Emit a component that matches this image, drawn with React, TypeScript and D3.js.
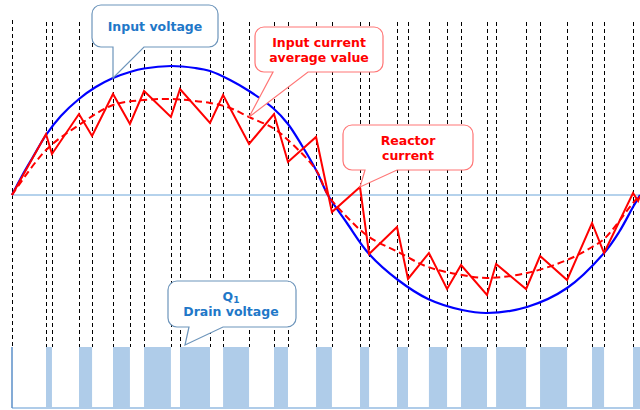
import React from "react";
import * as d3 from "d3";

// Phase angle (degrees) of each switching edge (dashed lines)
const switchDeg = [0, 19.5, 22.9, 38.4, 45.9, 57.9, 67.6, 75.7, 91.1, 96.3, 113.5, 121.0, 135.9, 150.2, 158.2, 174.3,
  183.4, 199.5, 204.7, 220.7, 227.0, 239.0, 249.4, 257.4, 272.3, 277.5, 294.7, 302.7, 318.2, 332.5, 339.4, 356.0];

// Reactor current at each switching edge (plus the tail end)
const currentDeg = [...switchDeg, 358.9, 360];
const currentVal = [0, 61, 41, 81, 59, 101, 71, 104, 78, 106, 72, 100, 51, 81, 33, 58,
  -17, 8, -59, -32, -84, -58, -94, -70, -100, -69, -94, -61, -85, -28, -58, 2, -6, -1];

// Input voltage samples
const voltDeg = [0, 6, 12, 19.5, 28, 38.4, 48, 57.9, 67.6, 75.7, 91.1, 105, 113.5, 125, 135.9, 149.6, 158.2, 166, 174.3, 181.1,
  192.0, 204.7, 221.3, 238.5, 258.0, 272.3, 295.2, 318.2, 339.4, 348, 356.0, 360];
const voltVal = [0, 20, 38, 60, 79, 96, 108, 117, 123, 126.5, 129, 127, 124, 115, 104, 87, 71, 50, 25, 0,
  -28, -59, -85, -104, -115, -118, -112, -93, -58, -37, -12, 0];

// Input current average value samples
const avgDeg = [0, 19.5, 38.4, 57.9, 75.7, 91.1, 113.5, 125.0, 135.9, 149.6, 158.2, 174.3, 181.1,
  192.0, 204.7, 221.3, 238.5, 258.0, 272.3, 295.2, 318.2, 332.5, 339.4, 356.0, 360];
const avgVal = [0, 45, 70, 90, 95, 96, 92, 87, 78, 67, 55, 25, 0,
  -22, -42, -57, -72, -80, -83, -78, -65, -52, -44, -8, 0];

const W = 640;
const H = 410;

const x = d3.scaleLinear().domain([0, 360]).range([12, 640]);
const y = d3.scaleLinear().domain([-150, 150]).range([345, 45]);

const BAR_TOP = 347;
const BAR_BOT = 408;
const LINE_TOP = 22;

function callout(bx: number, by: number, w: number, h: number, r: number, t1: number, t2: number, tx: number, ty: number) {
  const b = by + h;
  return `M${bx + r},${by} H${bx + w - r} A${r},${r} 0 0 1 ${bx + w},${by + r} V${b - r} A${r},${r} 0 0 1 ${bx + w - r},${b} H${t2} L${tx},${ty} L${t1},${b} H${bx + r} A${r},${r} 0 0 1 ${bx},${b - r} V${by + r} A${r},${r} 0 0 1 ${bx + r},${by} Z`;
}

export default function App() {
  const cur = currentDeg.map((d, i) => [d, currentVal[i]] as [number, number]);
  const volt = voltDeg.map((d, i) => [d, voltVal[i]] as [number, number]);
  const avg = avgDeg.map((d, i) => [d, avgVal[i]] as [number, number]);

  const lineLin = d3.line<[number, number]>().x((d) => x(d[0])).y((d) => y(d[1]));
  const lineSmooth = d3.line<[number, number]>().x((d) => x(d[0])).y((d) => y(d[1])).curve(d3.curveCatmullRom.alpha(0.5));

  // off intervals (drain voltage high)
  const bars: [number, number][] = [];
  for (let i = 1; i < switchDeg.length; i += 2) {
    bars.push([switchDeg[i], i + 1 < switchDeg.length ? switchDeg[i + 1] : 360]);
  }

  const font = "'DejaVu Sans', Verdana, sans-serif";
  const blueText = "#1f78c8";
  const blueBorder = "#6d95bb";
  const redText = "#ff0000";
  const redBorder = "#ff7676";

  return (
    <svg width={W} height={H} style={{ position: "absolute", left: 0, top: 0, background: "#fff" }}>
      {/* drain voltage bars */}
      {bars.map(([a, b], i) => (
        <rect key={i} x={x(a)} y={BAR_TOP} width={x(b) - x(a)} height={BAR_BOT - BAR_TOP + 1} fill="#afcce9" />
      ))}
      <line x1={x(0)} x2={W} y1={BAR_BOT} y2={BAR_BOT} stroke="#afcce9" strokeWidth={2} />
      <line x1={x(0)} x2={x(0)} y1={BAR_TOP} y2={BAR_BOT} stroke="#5b8fc8" strokeWidth={1.5} />

      {/* switching edges */}
      {switchDeg.map((d, i) => (
        <line key={i} x1={Math.round(x(d)) + 0.5} x2={Math.round(x(d)) + 0.5} y1={i === 0 ? 20 : LINE_TOP} y2={BAR_TOP}
          stroke="#000" strokeWidth={1} strokeDasharray="4,3" />
      ))}

      {/* zero axis */}
      <line x1={x(0)} x2={W} y1={y(0)} y2={y(0)} stroke="#9dc3e6" strokeWidth={1.6} />

      {/* curves */}
      <path d={lineSmooth(volt) || ""} fill="none" stroke="#0000ff" strokeWidth={2.2} />
      <path d={lineSmooth(avg) || ""} fill="none" stroke="#ff0000" strokeWidth={2} strokeDasharray="7,4" />
      <path d={lineLin(cur) || ""} fill="none" stroke="#ff0000" strokeWidth={2} strokeLinejoin="miter" />

      {/* callouts */}
      <path d={callout(92, 5, 126, 42, 9, 113, 144, x(switchDeg[5]), y(117))} fill="#fff" stroke={blueBorder} strokeWidth={1.2} />
      <text x={155} y={31} textAnchor="middle" fontFamily={font} fontWeight="bold" fontSize={12.5} fill={blueText}>Input voltage</text>

      <path d={callout(255, 27, 128, 45, 9, 273, 308, x(switchDeg[12]), y(78))} fill="#fff" stroke={redBorder} strokeWidth={1.2} />
      <text x={319} y={47} textAnchor="middle" fontFamily={font} fontWeight="bold" fontSize={12.5} fill={redText}>Input current</text>
      <text x={319} y={62} textAnchor="middle" fontFamily={font} fontWeight="bold" fontSize={12.5} fill={redText}>average value</text>

      <path d={callout(343, 125, 130, 45, 9, 365, 397, x(switchDeg[17]), y(currentVal[17]))} fill="#fff" stroke={redBorder} strokeWidth={1.2} />
      <text x={408} y={145} textAnchor="middle" fontFamily={font} fontWeight="bold" fontSize={12.5} fill={redText}>Reactor</text>
      <text x={408} y={160} textAnchor="middle" fontFamily={font} fontWeight="bold" fontSize={12.5} fill={redText}>current</text>

      <path d={callout(168, 281, 128, 46, 9, 189, 223, 185, BAR_TOP - 2)} fill="#fff" stroke={blueBorder} strokeWidth={1.2} />
      <text x={231} y={301} textAnchor="middle" fontFamily={font} fontWeight="bold" fontSize={12.5} fill={blueText}>
        Q<tspan fontSize={9} dy={2}>1</tspan>
      </text>
      <text x={231} y={316} textAnchor="middle" fontFamily={font} fontWeight="bold" fontSize={12.5} fill={blueText}>Drain voltage</text>
    </svg>
  );
}
